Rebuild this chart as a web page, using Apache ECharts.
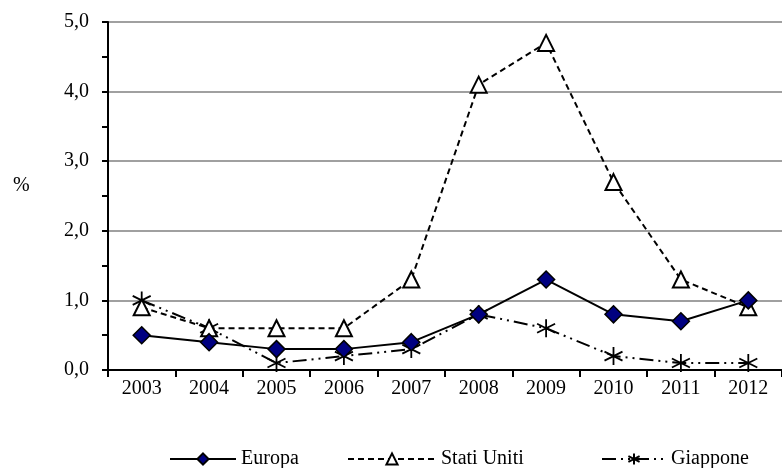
<!DOCTYPE html>
<html>
<head>
<meta charset="utf-8">
<script src="https://cdn.jsdelivr.net/npm/echarts@6/dist/echarts.min.js"></script>
<style>
  html, body { margin: 0; padding: 0; background: #fff; }
  #chart { width: 782px; height: 468px; }
</style>
</head>
<body>
<div id="chart"></div>
<script>
// Years on the category axis
const years = ['2003', '2004', '2005', '2006', '2007', '2008', '2009', '2010', '2011', '2012'];

// Values in percent
const europa = [0.5, 0.4, 0.3, 0.3, 0.4, 0.8, 1.3, 0.8, 0.7, 1.0];
const statiUniti = [0.9, 0.6, 0.6, 0.6, 1.3, 4.1, 4.7, 2.7, 1.3, 0.9];
const giappone = [1.0, 0.6, 0.1, 0.2, 0.3, 0.8, 0.6, 0.2, 0.1, 0.1];

// Value axis range
const yMin = 0;
const yMax = 5;
const yStep = 1;

const FONT = '"Liberation Serif", "Times New Roman", serif';
const FS = 20;
const asterisk = 'path://M0,-10L0,10M-8.66,-5L8.66,5M-8.66,5L8.66,-5';

const chart = echarts.init(document.getElementById('chart'), null, { renderer: 'canvas' });

function legendFor(name, left, width) {
  return {
    data: [name],
    left: left,
    top: 444,
    itemWidth: width,
    itemHeight: 14,
    itemGap: 0,
    textStyle: { fontFamily: FONT, fontSize: FS, color: '#000' },
    selectedMode: false
  };
}

chart.setOption({
  animation: false,
  backgroundColor: '#fff',
  textStyle: { fontFamily: FONT },
  grid: { left: 108, top: 22, right: -12, bottom: 98, containLabel: false },
  graphic: [{
    type: 'text',
    left: 13,
    top: 176,
    style: { text: '%', font: FS + 'px ' + FONT, fill: '#000' }
  }],
  legend: [
    legendFor('Europa', 164, 66),
    legendFor('Stati Uniti', 342, 88),
    legendFor('Giappone', 596, 64)
  ],
  xAxis: {
    type: 'category',
    data: years,
    boundaryGap: true,
    axisLine: { lineStyle: { color: '#000', width: 2 } },
    axisTick: { show: true, length: 7, lineStyle: { color: '#000', width: 2 } },
    axisLabel: { color: '#000', fontFamily: FONT, fontSize: FS, margin: 9 },
    splitLine: { show: false }
  },
  yAxis: {
    type: 'value',
    min: yMin,
    max: yMax,
    interval: yStep,
    axisLine: { show: true, lineStyle: { color: '#000', width: 2 } },
    axisTick: { show: true, length: 6, lineStyle: { color: '#000', width: 2 } },
    minorTick: { show: true, splitNumber: 2, length: 6, lineStyle: { color: '#000', width: 2 } },
    axisLabel: {
      color: '#000', fontFamily: FONT, fontSize: FS, margin: 19,
      formatter: v => v.toFixed(1).replace('.', ',')
    },
    splitLine: { show: true, lineStyle: { color: '#a0a0a0', width: 2 } }
  },
  series: [
    {
      name: 'Giappone',
      type: 'line',
      data: giappone,
      symbol: asterisk,
      symbolSize: 18,
      itemStyle: { color: '#000', borderColor: '#000', borderWidth: 1.8 },
      lineStyle: { color: '#000', width: 2, type: [14, 5, 2, 5, 2, 5] },
      z: 3
    },
    {
      name: 'Stati Uniti',
      type: 'line',
      data: statiUniti,
      symbol: 'triangle',
      symbolSize: 16,
      itemStyle: { color: '#fff', borderColor: '#000', borderWidth: 2 },
      lineStyle: { color: '#000', width: 2, type: [6, 4] },
      z: 4
    },
    {
      name: 'Europa',
      type: 'line',
      data: europa,
      symbol: 'diamond',
      symbolSize: 17,
      itemStyle: { color: '#000080', borderColor: '#000', borderWidth: 1.5 },
      lineStyle: { color: '#000', width: 2, type: 'solid' },
      z: 5
    }
  ]
});
</script>
</body>
</html>
